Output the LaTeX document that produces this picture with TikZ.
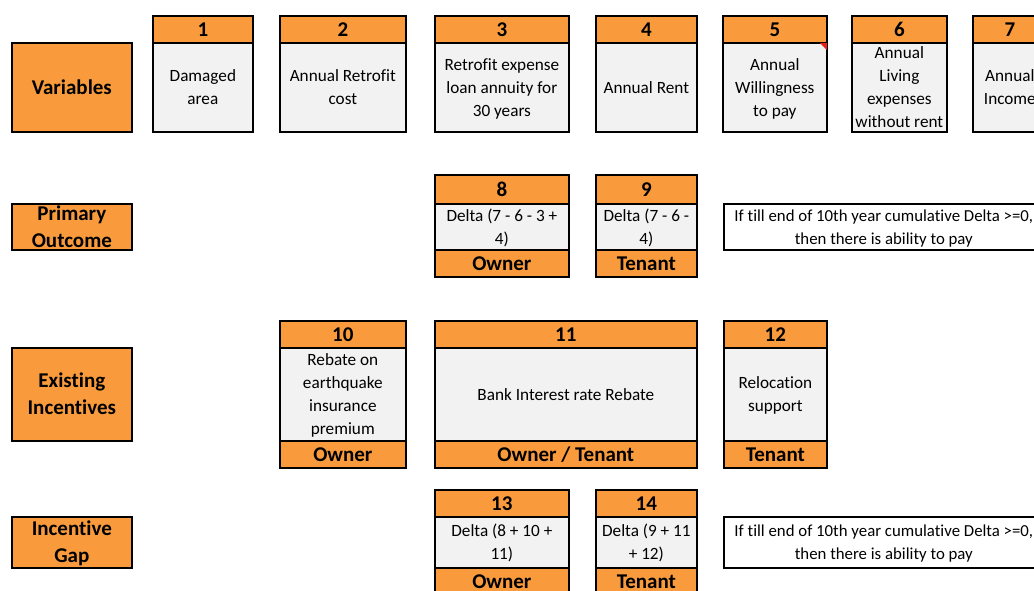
\documentclass[tikz,border=0pt]{standalone}
\usepackage{fontspec}
\setmainfont[Ligatures={NoCommon}]{Carlito}
\definecolor{cellorange}{HTML}{F99B3C}
\definecolor{cellgray}{HTML}{F2F2F2}
\definecolor{notered}{HTML}{E8201A}
% centred multi-line cell text that never stretches its box
\newcommand\celltext[1]{\smash{\raisebox{\dimexpr-.25em-1.5pt\relax}{\begin{tabular}{@{}c@{}}#1\end{tabular}}}}
\tikzset{
  seg/.style={draw=black, line width=1.7pt, inner sep=0pt, anchor=north west},
  hdr/.style={seg, fill=cellorange, font=\fontsize{21}{27}\selectfont\bfseries},
  rowlabel/.style={seg, fill=cellorange, font=\fontsize{21}{27}\selectfont\bfseries},
  bodycell/.style={seg, fill=cellgray, font=\fontsize{17.2}{23}\selectfont},
  notecell/.style={seg, fill=white, font=\fontsize{16.8}{23}\selectfont},
}
% \seg{style}{name}{x}{y}{width}{height}{text}
\newcommand\seg[7]{\node[#1, minimum width=#5pt, minimum height=#6pt] (#2) at (#3,#4) {\celltext{#7}};}
\begin{document}
\begin{tikzpicture}[x=1pt,y=-1pt]
\useasboundingbox (0,0) rectangle (1034,590);
\clip (0,0) rectangle (1034,590);

% ---- Variables ----
\seg{rowlabel}{lvar}{11}{42}{120}{89}{Variables}
\seg{bodycell}{b1}{152}{42}{100}{89}{Damaged\\area}
\seg{hdr}{h1}{152}{15}{100}{27}{1}
\seg{bodycell}{b2}{279}{42}{126}{89}{Annual Retrofit\\cost}
\seg{hdr}{h2}{279}{15}{126}{27}{2}
\seg{bodycell}{b3}{434}{42}{134}{89}{Retrofit expense\\loan annuity for\\30 years}
\seg{hdr}{h3}{434}{15}{134}{27}{3}
\seg{bodycell}{b4}{595}{42}{101}{89}{Annual Rent}
\seg{hdr}{h4}{595}{15}{101}{27}{4}
\seg{bodycell}{b5}{722}{42}{104}{89}{Annual\\Willingness\\to pay}
\seg{hdr}{h5}{722}{15}{104}{27}{5}
\fill[notered] ([xshift=-8pt,yshift=-0.9pt]b5.north east) -- ([yshift=-0.9pt,xshift=-0.9pt]b5.north east) -- ([xshift=-0.9pt,yshift=-8pt]b5.north east) -- cycle;
\seg{bodycell}{b6}{851}{42}{95}{89}{Annual\\Living\\expenses\\without rent}
\seg{hdr}{h6}{851}{15}{95}{27}{6}
\seg{bodycell}{b7}{972}{42}{74}{89}{Annual\\Income}
\seg{hdr}{h7}{972}{15}{74}{27}{7}

% ---- Primary outcome ----
\seg{rowlabel}{lprim}{11}{203}{120}{46}{Primary\\Outcome}
\seg{bodycell}{b8}{434}{203}{134}{46}{Delta (7 - 6 - 3 +\\4)}
\seg{hdr}{h8}{434}{174}{134}{29}{8}
\seg{hdr}{f8}{434}{249}{134}{27}{Owner}
\seg{bodycell}{b9}{595}{203}{101}{46}{Delta (7 - 6 -\\4)}
\seg{hdr}{h9}{595}{174}{101}{29}{9}
\seg{hdr}{f9}{595}{249}{101}{27}{Tenant}
\seg{notecell}{n1}{723}{203}{320}{46}{If till end of 10th year cumulative Delta >=0,\\then there is ability to pay}

% ---- Existing incentives ----
\seg{rowlabel}{lexist}{11}{347}{120}{93}{Existing\\Incentives}
\seg{bodycell}{b10}{279}{347}{126}{93}{Rebate on\\earthquake\\insurance\\premium}
\seg{hdr}{h10}{279}{320}{126}{27}{10}
\seg{hdr}{f10}{279}{440}{126}{27}{Owner}
\seg{bodycell}{b11}{434}{347}{262}{93}{Bank Interest rate Rebate}
\seg{hdr}{h11}{434}{320}{262}{27}{11}
\seg{hdr}{f11}{434}{440}{262}{27}{Owner / Tenant}
\seg{bodycell}{b12}{723}{347}{103}{93}{Relocation\\support}
\seg{hdr}{h12}{723}{320}{103}{27}{12}
\seg{hdr}{f12}{723}{440}{103}{27}{Tenant}

% ---- Incentive gap ----
\seg{rowlabel}{lgap}{11}{516}{120}{51}{Incentive\\Gap}
\seg{bodycell}{b13}{434}{516}{134}{51}{Delta (8 + 10 +\\11)}
\seg{hdr}{h13}{434}{489}{134}{27}{13}
\seg{hdr}{f13}{434}{567}{134}{27}{Owner}
\seg{bodycell}{b14}{595}{516}{101}{51}{Delta (9 + 11\\+ 12)}
\seg{hdr}{h14}{595}{489}{101}{27}{14}
\seg{hdr}{f14}{595}{567}{101}{27}{Tenant}
\seg{notecell}{n2}{723}{516}{320}{51}{If till end of 10th year cumulative Delta >=0,\\then there is ability to pay}
\end{tikzpicture}
\end{document}
